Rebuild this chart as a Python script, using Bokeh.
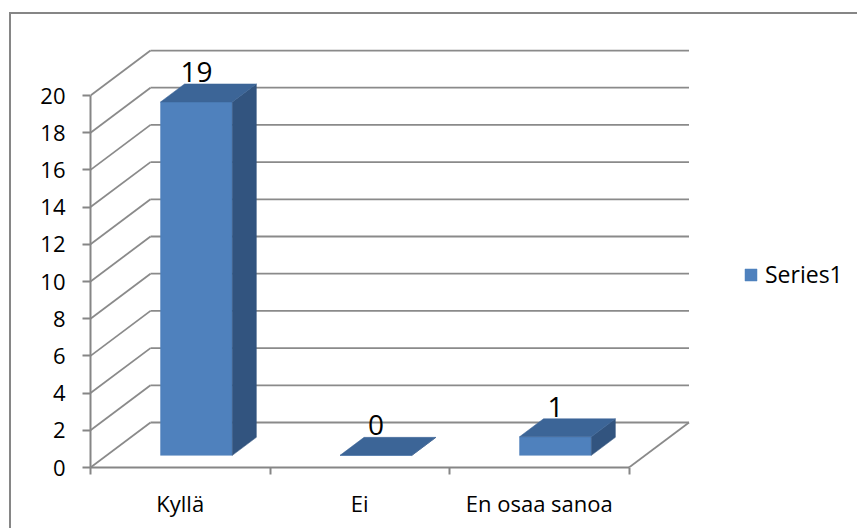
from bokeh.plotting import figure
from bokeh.models import Range1d, FixedTicker, Legend, LegendItem
from bokeh.core.properties import value
from bokeh.embed import file_html
from bokeh.resources import INLINE

# ---- data ----
categories = ["Kyllä", "Ei", "En osaa sanoa"]
counts = [19, 0, 1]
y_ticks = [0, 2, 4, 6, 8, 10, 12, 14, 16, 18, 20]
series_name = "Series1"

# ---- style / geometry ----
FONT = "Open Sans"
GRID = "#8a8a8a"
AXIS = "#868686"
FRONT = "#4f81bd"
TOP = "#3c6597"
SIDE = "#32547f"
PX_CAT = 179.5            # px per category
PX_VAL = 18.6             # px per value unit
DX = 60 / PX_CAT          # depth of the 3D box in category units
DY = 45 / PX_VAL          # depth of the 3D box in value units
F0, F1 = 0.27, 0.67       # bar front/back positions within the depth
BAR_W = 0.4
YMAX = y_ticks[-1]
n = len(categories)

W, H = 848, 516
MB_L, MB_T, MB_B = 79, 35, 63
FRAME_W = W - MB_L
FRAME_H = H - MB_T - MB_B

p = figure(width=W, height=H, output_backend="svg", toolbar_location=None,
           x_range=Range1d(0, FRAME_W / PX_CAT), y_range=Range1d(0, FRAME_H / PX_VAL),
           min_border_left=MB_L, min_border_right=0, min_border_top=MB_T,
           min_border_bottom=MB_B, title=None)
p.styles = {"margin-left": "9px", "margin-top": "12px",
            "border-left": "2px solid #868686", "border-top": "2px solid #868686"}
p.outline_line_color = None
p.xgrid.visible = False
p.ygrid.visible = False
p.background_fill_color = "white"
p.border_fill_color = "white"

# walls: back wall gridlines, side wall diagonals, floor right edge
back_y = [t + DY for t in y_ticks]
p.segment(x0=[DX] * len(y_ticks), y0=back_y, x1=[n + DX] * len(y_ticks), y1=back_y,
          line_color=GRID, line_width=1.8)
p.segment(x0=[0] * len(y_ticks), y0=y_ticks, x1=[DX] * len(y_ticks), y1=back_y,
          line_color=GRID, line_width=1.8)
p.segment(x0=[n], y0=[0], x1=[n + DX], y1=[DY], line_color=GRID, line_width=1.8)

# bars
fx, fy, tx, ty, sx, sy = [], [], [], [], [], []
for i, v in enumerate(counts):
    xl = i + 0.5 - BAR_W / 2
    xr = i + 0.5 + BAR_W / 2
    a0x, a0y = F0 * DX, F0 * DY
    a1x, a1y = F1 * DX, F1 * DY
    fx.append([xl + a0x, xr + a0x, xr + a0x, xl + a0x])
    fy.append([a0y, a0y, v + a0y, v + a0y])
    tx.append([xl + a0x, xr + a0x, xr + a1x, xl + a1x])
    ty.append([v + a0y, v + a0y, v + a1y, v + a1y])
    sx.append([xr + a0x, xr + a1x, xr + a1x, xr + a0x])
    sy.append([a0y, a1y, v + a1y, v + a0y])

front_r = p.patches(fx, fy, fill_color=FRONT, line_color=FRONT, line_width=0.5)
p.patches(sx, sy, fill_color=SIDE, line_color=SIDE, line_width=0.5)
p.patches(tx, ty, fill_color=TOP, line_color=TOP, line_width=0.5)

# data labels
gap = 12 / PX_VAL
p.text(x=[i + 0.5 + F0 * DX for i in range(n)],
       y=[v + F1 * DY + gap for v in counts],
       text=[str(v) for v in counts], text_align="center", text_baseline="alphabetic",
       text_font=value(FONT), text_font_size="28px", text_color="black")

# axes
xa = p.xaxis[0]
xa.bounds = (0, n)
xa.ticker = FixedTicker(ticks=[i + 0.5 for i in range(n)], minor_ticks=list(range(n + 1)))
xa.major_label_overrides = {i + 0.5: c for i, c in enumerate(categories)}
xa.major_tick_out = 0
xa.major_tick_in = 0
xa.minor_tick_out = 7
xa.minor_tick_in = 0
xa.minor_tick_line_color = AXIS
xa.minor_tick_line_width = 2
xa.axis_line_color = AXIS
xa.axis_line_width = 2
xa.major_label_standoff = 13
xa.major_label_text_font = FONT
xa.major_label_text_font_size = "22px"
xa.major_label_text_color = "black"

ya = p.yaxis[0]
ya.bounds = (0, YMAX)
ya.ticker = FixedTicker(ticks=y_ticks)
ya.major_tick_out = 8
ya.major_tick_in = 0
ya.minor_tick_out = 0
ya.minor_tick_in = 0
ya.major_tick_line_color = AXIS
ya.major_tick_line_width = 2
ya.axis_line_color = AXIS
ya.axis_line_width = 2
ya.major_label_standoff = 17
ya.major_label_text_font = FONT
ya.major_label_text_font_size = "22px"
ya.major_label_text_color = "black"

# legend
legend = Legend(items=[LegendItem(label=series_name, renderers=[front_r])],
                location=(653, 177), padding=0, margin=0, border_line_color=None,
                background_fill_alpha=0, glyph_width=15, glyph_height=15,
                label_standoff=7, label_text_font=FONT, label_text_font_size="23px",
                label_text_color="black")
p.add_layout(legend)

open("out.html", "w").write(file_html(p, INLINE))
